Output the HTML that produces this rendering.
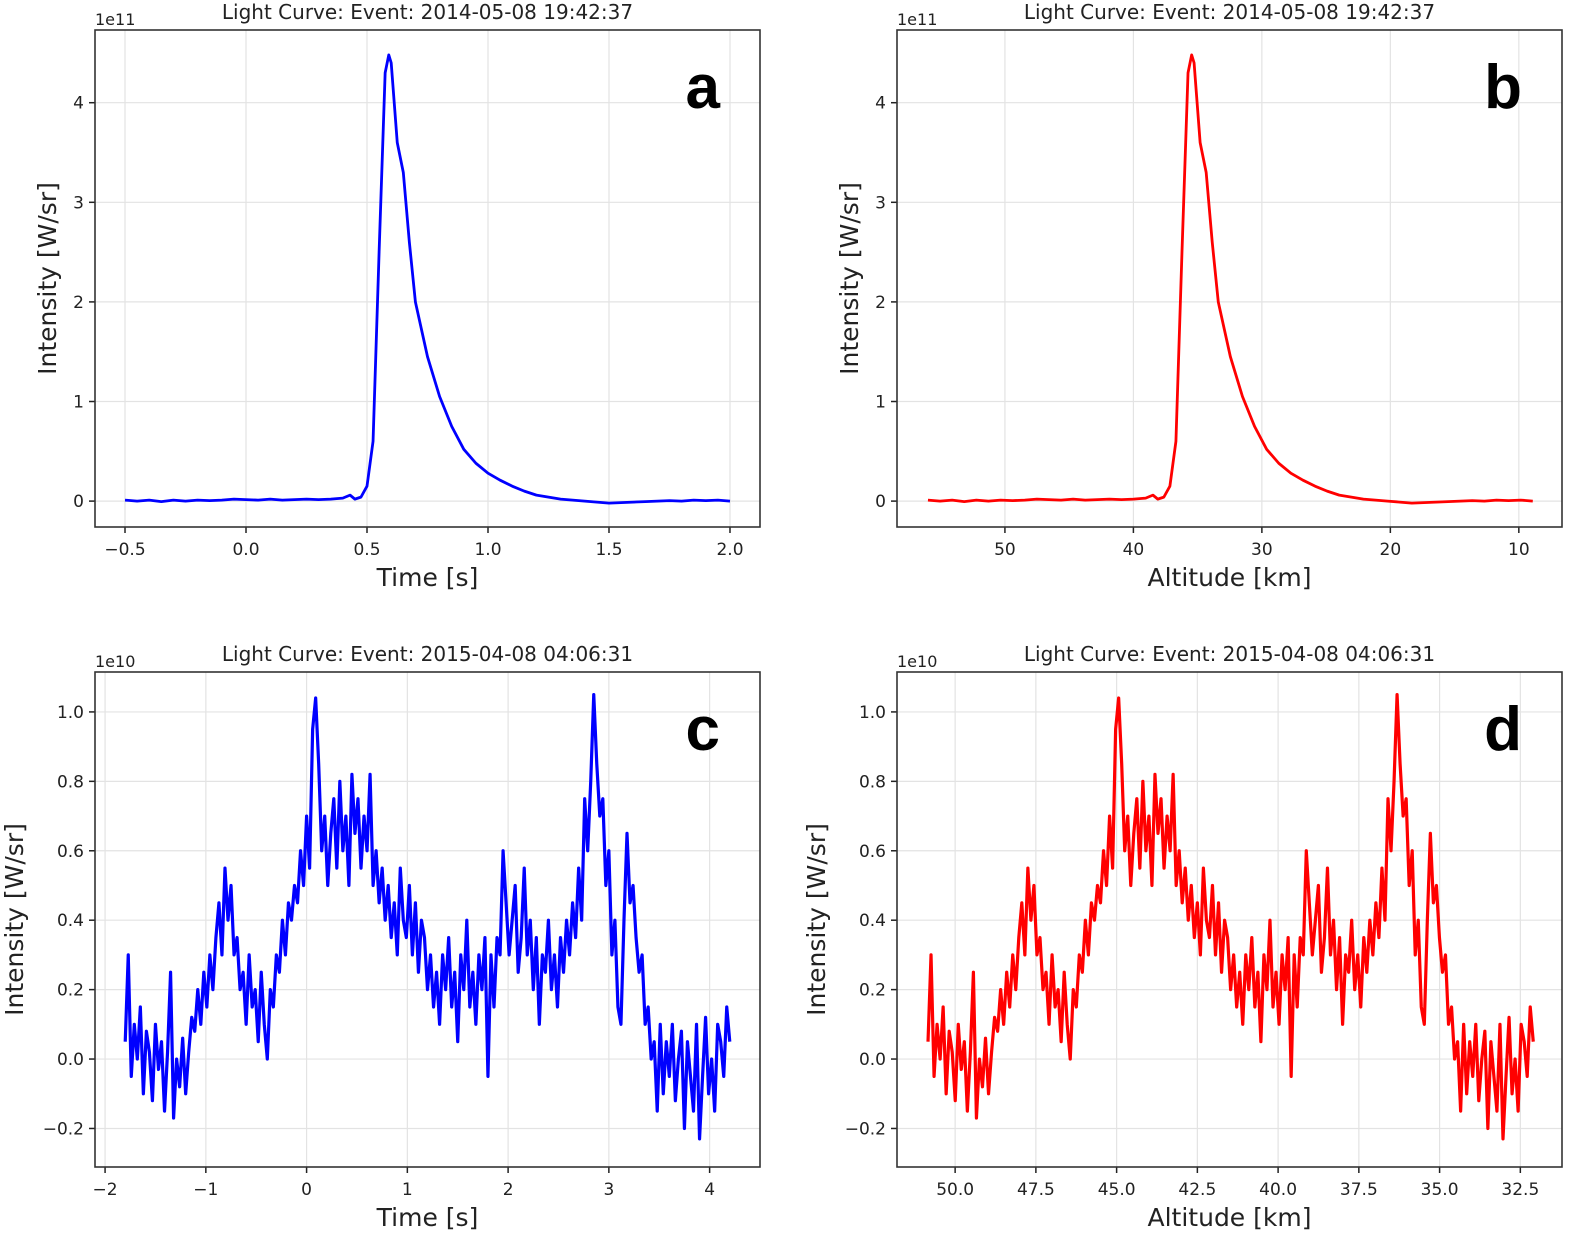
<!DOCTYPE html>
<html><head><meta charset="utf-8"><style>
body{margin:0;background:#fff;}
svg{display:block;font-family:"DejaVu Sans","Liberation Sans",sans-serif;}
</style></head><body>
<svg id="fig" width="1569" height="1236" viewBox="0 0 1569 1236" xmlns="http://www.w3.org/2000/svg"></svg>
<script>
// Panel a/b data (1e11 W/sr)
const timesA = [-0.5,-0.45,-0.4,-0.35,-0.3,-0.25,-0.2,-0.15,-0.1,-0.05,0.0,0.05,0.1,0.15,0.2,0.25,0.3,0.35,0.4,0.43,0.45,0.475,0.5,0.525,0.55,0.575,0.59,0.6,0.625,0.65,0.675,0.7,0.75,0.8,0.85,0.9,0.95,1.0,1.05,1.1,1.15,1.2,1.25,1.3,1.35,1.4,1.45,1.5,1.55,1.6,1.65,1.7,1.75,1.8,1.85,1.9,1.95,2.0];
const valuesA = [0.01,0.0,0.01,-0.005,0.01,0.0,0.01,0.005,0.01,0.02,0.015,0.01,0.02,0.01,0.015,0.02,0.015,0.02,0.03,0.06,0.02,0.04,0.15,0.6,2.5,4.3,4.48,4.4,3.6,3.3,2.6,2.0,1.45,1.05,0.75,0.52,0.38,0.28,0.21,0.15,0.1,0.06,0.04,0.02,0.01,0.0,-0.01,-0.02,-0.015,-0.01,-0.005,0.0,0.005,0.0,0.01,0.005,0.01,0.0];
// Panel c/d data (1e10 W/sr), uniformly sampled from -1.8 s to 4.2 s
const valuesC = [0.05,0.3,-0.05,0.1,0.0,0.15,-0.1,0.08,0.02,-0.12,0.1,-0.03,0.05,-0.15,0.02,0.25,-0.17,0.0,-0.08,0.06,-0.1,
0.02,0.12,0.08,0.2,0.1,0.25,0.15,0.3,0.2,0.35,
0.45,0.3,0.55,0.4,0.5,0.3,0.35,
0.2,0.25,0.1,0.3,0.15,0.2,0.05,0.25,0.1,0.0,
0.2,0.15,0.3,0.25,0.4,0.3,0.45,0.4,0.5,0.45,
0.6,0.5,0.7,0.55,0.95,
1.04,0.85,0.6,0.7,0.5,
0.65,0.75,0.55,0.8,0.6,0.7,0.5,0.82,0.65,0.75,0.55,0.7,0.6,0.82,0.5,0.6,0.45,0.55,
0.4,0.5,0.35,0.45,0.3,0.55,0.4,0.35,0.5,0.3,0.45,0.25,0.4,0.35,
0.2,0.3,0.15,0.25,0.1,0.3,0.2,0.35,0.15,0.25,0.05,0.3,0.2,0.4,0.15,0.25,0.1,0.3,
0.2,0.35,-0.05,0.3,0.15,0.35,0.3,
0.6,0.45,0.3,0.4,0.5,0.25,0.35,0.55,0.3,0.4,0.2,0.35,0.1,0.3,0.25,0.4,0.2,0.3,0.15,0.35,0.25,
0.4,0.3,0.45,0.35,0.55,0.4,0.75,
0.6,0.8,1.05,0.85,0.7,0.75,
0.5,0.6,0.3,0.4,0.15,0.1,
0.4,0.65,0.45,0.5,0.35,0.25,0.3,0.1,
0.15,0.0,0.05,-0.15,0.1,-0.1,0.05,-0.05,0.1,-0.12,0.0,0.08,-0.2,0.05,-0.05,-0.15,0.1,-0.23,-0.05,0.12,-0.1,0.0,-0.15,0.1,0.05,-0.05,0.15,0.05];
const tStartC = -1.8, tEndC = 4.2;
const ticksA = [-0.5,0.0,0.5,1.0,1.5,2.0];
const ticksB = [50,40,30,20,10];
const ticksC = [-2,-1,0,1,2,3,4];
const ticksD = [50.0,47.5,45.0,42.5,40.0,37.5,35.0,32.5];
const yTicksTop = [0,1,2,3,4];
const yTicksBot = [-0.2,0.0,0.2,0.4,0.6,0.8,1.0];

const NS="http://www.w3.org/2000/svg";
const svg=document.getElementById('fig');
function mk(tag,attrs,parent){const e=document.createElementNS(NS,tag);for(const k in attrs)e.setAttribute(k,attrs[k]);(parent||svg).appendChild(e);return e;}
function fmt(v,d){const s=v.toFixed(d);return v<0?'\u2212'+s.slice(1):s;}

function panel(o){
  const g=mk('g',{});
  
  
  const X=v=>o.L+(v-o.x0)/(o.x1-o.x0)*(o.R-o.L);
  const Y=v=>o.B-(v-o.y0)/(o.y1-o.y0)*(o.B-o.T);
  o.xt.forEach(v=>{
    const l=mk('line',{x1:X(v),x2:X(v),y1:o.T,y2:o.B,stroke:'#e3e3e3','stroke-width':1.2},g);
    
    mk('line',{x1:X(v),x2:X(v),y1:o.B,y2:o.B+6,stroke:'#222','stroke-width':1.5},g);
    const t=mk('text',{x:X(v),y:o.B+28,'text-anchor':'middle','font-size':17,fill:'#222'},g);
    
    t.textContent=fmt(v,o.xd);
  });
  o.yt.forEach(v=>{
    const l=mk('line',{x1:o.L,x2:o.R,y1:Y(v),y2:Y(v),stroke:'#e3e3e3','stroke-width':1.2},g);
    
    mk('line',{x1:o.L-6,x2:o.L,y1:Y(v),y2:Y(v),stroke:'#222','stroke-width':1.5},g);
    const t=mk('text',{x:o.L-11,y:Y(v)+6,'text-anchor':'end','font-size':17,fill:'#222'},g);
    
    t.textContent=fmt(v,o.yd);
  });
  let d='';
  o.xs.forEach((xv,i)=>{d+=(i?'L':'M')+X(xv).toFixed(2)+' '+Y(o.ys[i]).toFixed(2);});
  const p=mk('path',{d:d,fill:'none',stroke:o.color,'stroke-width':o.lw,'stroke-linejoin':'round'},g);
  
  const fr=mk('rect',{x:o.L,y:o.T,width:o.R-o.L,height:o.B-o.T,fill:'none',stroke:'#333','stroke-width':1.6},g);
  
  const ti=mk('text',{x:(o.L+o.R)/2,y:o.T-11,'text-anchor':'middle','font-size':20,fill:'#222'},g);
  
  ti.textContent=o.title;
  const of=mk('text',{x:o.L,y:o.T-5,'font-size':16,fill:'#222'},g);
  
  of.textContent=o.off;
  const xl=mk('text',{x:(o.L+o.R)/2,y:o.B+59,'text-anchor':'middle','font-size':25,fill:'#222'},g);
  
  xl.textContent=o.xlabel;
  const yl=mk('text',{x:0,y:0,'text-anchor':'middle','font-size':25,fill:'#222',transform:`translate(${o.ylx},${(o.T+o.B)/2}) rotate(-90)`},g);
  
  yl.textContent='Intensity [W/sr]';
  const lt=mk('text',{x:o.R-40,y:o.T+78,'text-anchor':'end','font-size':62,'font-weight':'bold',fill:'#000','font-family':'"Liberation Sans",sans-serif'},g);
  
  lt.textContent=o.letter;
}

const altA = timesA.map(t=>55.99-(t+0.5)*18.83);
const timesC = valuesC.map((v,i)=>tStartC+i*(tEndC-tStartC)/(valuesC.length-1));
const altC = timesC.map(t=>50.84-(t+1.8)*(18.74/6));

const topY0=-0.26, topY1=4.73, botY0=-0.311, botY1=1.115;
panel({letter:'a',L:95,R:760,T:30,B:527,x0:-0.624,x1:2.124,y0:topY0,y1:topY1,xt:ticksA,yt:yTicksTop,xd:1,yd:0,xs:timesA,ys:valuesA,color:'#0000ff',lw:2.8,title:'Light Curve: Event: 2014-05-08 19:42:37',off:'1e11',xlabel:'Time [s]',ylx:56});
panel({letter:'b',L:897,R:1562,T:30,B:527,x0:58.40,x1:6.64,y0:topY0,y1:topY1,xt:ticksB,yt:yTicksTop,xd:0,yd:0,xs:altA,ys:valuesA,color:'#ff0000',lw:2.8,title:'Light Curve: Event: 2014-05-08 19:42:37',off:'1e11',xlabel:'Altitude [km]',ylx:858});
panel({letter:'c',L:95,R:760,T:672,B:1167,x0:-2.1,x1:4.5,y0:botY0,y1:botY1,xt:ticksC,yt:yTicksBot,xd:0,yd:1,xs:timesC,ys:valuesC,color:'#0000ff',lw:3.2,title:'Light Curve: Event: 2015-04-08 04:06:31',off:'1e10',xlabel:'Time [s]',ylx:23});
panel({letter:'d',L:897,R:1562,T:672,B:1167,x0:51.80,x1:31.21,y0:botY0,y1:botY1,xt:ticksD,yt:yTicksBot,xd:1,yd:1,xs:altC,ys:valuesC,color:'#ff0000',lw:3.2,title:'Light Curve: Event: 2015-04-08 04:06:31',off:'1e10',xlabel:'Altitude [km]',ylx:825});
</script>
</body></html>
